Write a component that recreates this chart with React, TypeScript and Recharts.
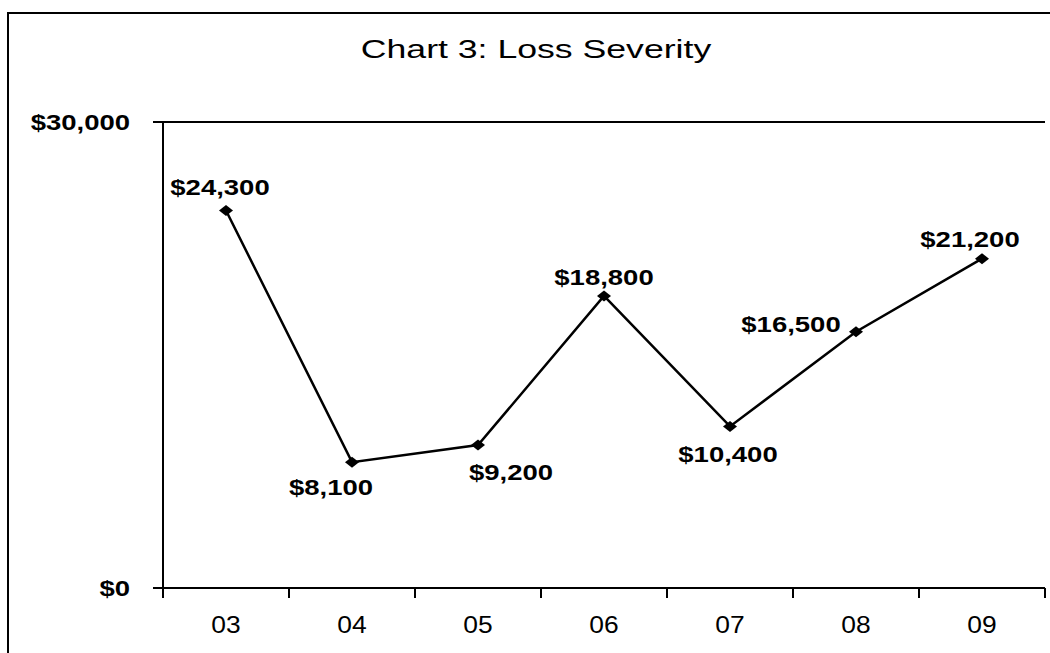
import React from "react"
import { LineChart, Line, XAxis, YAxis, CartesianGrid, LabelList } from "recharts"

const years = ["03", "04", "05", "06", "07", "08", "09"]
const severity = [24300, 8100, 9200, 18800, 10400, 16500, 21200]
const yTicks = [0, 30000]
// label nudges (dx, dy) relative to each point, as placed in the original
const labelNudges = [
  [-6, -23],
  [-21, 25],
  [33, 27],
  [0, -19],
  [-2, 28],
  [-65, -8],
  [-12, -20],
]

const data = years.map((y, i) => ({ year: y, severity: severity[i] }))

const FONT = "'Liberation Sans', Arial, sans-serif"
const money = (v: number) => `$${v.toLocaleString("en-US")}`

function Diamond({ cx, cy }: { cx?: number; cy?: number }) {
  if (cx == null || cy == null) return null
  return <polygon points={`${cx - 7},${cy} ${cx},${cy - 5.5} ${cx + 7},${cy} ${cx},${cy + 5.5}`} fill="#000" />
}

function YTick({ x, y, payload }: any) {
  return (
    <text
      transform={`translate(${x},${y}) scale(1.25,1)`}
      textAnchor="end"
      dominantBaseline="central"
      fontFamily={FONT}
      fontWeight="bold"
      fontSize={22}
      fill="#000"
    >
      {money(payload.value)}
    </text>
  )
}

function XTick({ x, y, payload, index }: any) {
  const half = payload.offset || 63
  return (
    <g>
      <line x1={x - half} x2={x - half} y1={y} y2={y + 10} stroke="#000" strokeWidth={2} />
      {index === years.length - 1 && (
        <line x1={x + half} x2={x + half} y1={y} y2={y + 10} stroke="#000" strokeWidth={2} />
      )}
      <text
        transform={`translate(${x},${y + 45}) scale(1.1,1)`}
        textAnchor="middle"
        fontFamily={FONT}
        fontSize={24}
        fill="#000"
      >
        {payload.value}
      </text>
    </g>
  )
}

function PointLabel({ x, y, value, index }: any) {
  const [dx, dy] = labelNudges[index] || [0, -20]
  return (
    <text
      transform={`translate(${x + dx},${y + dy}) scale(1.25,1)`}
      textAnchor="middle"
      dominantBaseline="central"
      fontFamily={FONT}
      fontWeight="bold"
      fontSize={22}
      fill="#000"
    >
      {money(value)}
    </text>
  )
}

export default function App() {
  return (
    <div style={{ position: "fixed", left: 0, top: 0, width: 1050, height: 653, overflow: "hidden", background: "#fff" }}>
      <div
        style={{
          position: "absolute",
          left: 7,
          top: 12,
          width: 1060,
          height: 700,
          border: "2px solid #000",
        }}
      />
      <div
        style={{
          position: "absolute",
          left: 0,
          width: 1072,
          top: 36,
          textAlign: "center",
          fontFamily: FONT,
          fontSize: 26,
          lineHeight: "26px",
          color: "#000",
          transform: "scaleX(1.37)",
          transformOrigin: "536px 0",
        }}
      >
        Chart 3: Loss Severity
      </div>
      <div style={{ position: "absolute", left: 0, top: 0 }}>
        <LineChart width={1050} height={653} data={data} margin={{ top: 122, right: 5, left: 0, bottom: 0 }}>
          <CartesianGrid vertical={false} stroke="#000" strokeWidth={2} />
          <XAxis
            dataKey="year"
            scale="band"
            height={65}
            interval={0}
            tickLine={false}
            tickSize={0}
            tickMargin={0}
            axisLine={{ stroke: "#000", strokeWidth: 2 }}
            tick={<XTick />}
          />
          <YAxis
            width={163}
            domain={[0, 30000]}
            ticks={yTicks}
            interval={0}
            tickSize={10}
            tickMargin={23}
            tickLine={{ stroke: "#000", strokeWidth: 2 }}
            axisLine={{ stroke: "#000", strokeWidth: 2 }}
            tick={<YTick />}
          />
          <YAxis
            yAxisId="edge"
            orientation="right"
            width={0}
            domain={[0, 30000]}
            tick={false}
            tickLine={false}
            axisLine={{ stroke: "#555", strokeWidth: 1, strokeDasharray: "2 2" }}
          />
          <Line
            dataKey="severity"
            stroke="#000"
            strokeWidth={2.5}
            dot={<Diamond />}
            activeDot={false}
            isAnimationActive={false}
          >
            <LabelList dataKey="severity" content={<PointLabel />} />
          </Line>
        </LineChart>
      </div>
    </div>
  )
}
